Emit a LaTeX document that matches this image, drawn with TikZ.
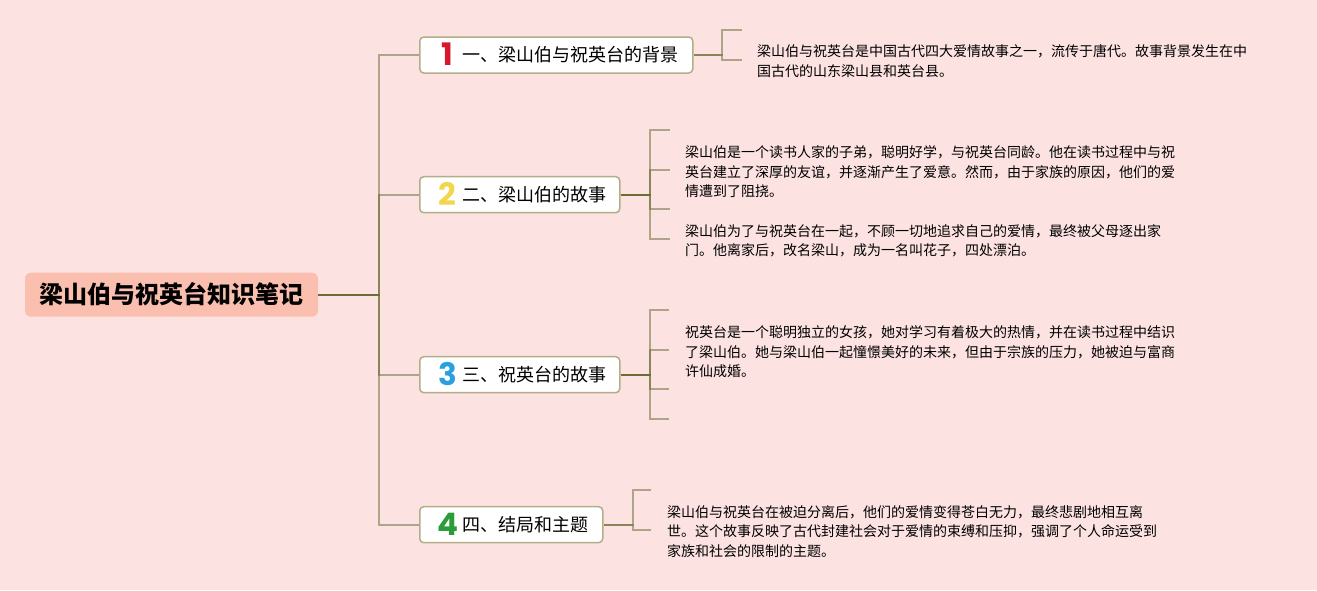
\documentclass[tikz,border=0pt]{standalone}
\usepackage{fontspec}
\setmainfont{Noto Sans CJK SC}
\newfontfamily\numfont{Poppins}
\definecolor{bg}{HTML}{FDE2E2}
\definecolor{rootfill}{HTML}{FBBFAF}
\definecolor{ln}{RGB}{99,104,45}
\definecolor{boxline}{HTML}{B3AE88}
\definecolor{nred}{HTML}{D7172F}
\definecolor{nyellow}{HTML}{F2D64C}
\definecolor{nblue}{HTML}{2AA0DE}
\definecolor{ngreen}{HTML}{2A9D3A}
\newcommand\ptext[1]{\begin{tabular}[t]{@{}l@{}}#1\end{tabular}}
\newcommand\topicc[4]{\makebox[#3][l]{\hspace{22pt}\makebox[12pt][c]{\raisebox{-4pt}{\numfont\bfseries\fontsize{31}{31}\selectfont\color{#1}#2}}\hspace{8.5pt}#4}}
\begin{document}
\begin{tikzpicture}[x=1pt,y=-1pt,
  rootbox/.style={fill=rootfill, rounded corners=6pt, minimum width=293pt, minimum height=44pt, inner sep=0pt,
    font=\fontsize{24}{28}\selectfont\bfseries, text height=21.1pt, text depth=2.9pt},
  topicbox/.style={draw=boxline, line width=1.5pt, fill=white, rounded corners=4pt, minimum height=36pt,
    inner xsep=0pt, inner ysep=0pt, anchor=west, font=\fontsize{18}{22}\selectfont, text height=15.84pt, text depth=2.16pt},
  conn/.style={draw=ln, draw opacity=0.5, line width=2pt},
  stubline/.style={draw=ln, draw opacity=0.5, line width=1.8pt},
  para/.style={anchor=base west, inner sep=0pt, font=\fontsize{14}{19.5}\selectfont}
]
\fill[bg] (0,0) rectangle (1317,590);
\useasboundingbox (0,0) rectangle (1317,590);

% root
\node[rootbox] (root) at (171.5,294.7) {梁山伯与祝英台知识笔记};

% topics
\node[topicbox] (b1) at (419,55) {\topicc{nred}{1}{273pt}{一、梁山伯与祝英台的背景}};
\node[topicbox] (b2) at (419,194.7) {\topicc{nyellow}{2}{200pt}{二、梁山伯的故事}};
\node[topicbox] (b3) at (419,374.7) {\topicc{nblue}{3}{200pt}{三、祝英台的故事}};
\node[topicbox] (b4) at (419,524.7) {\topicc{ngreen}{4}{183pt}{四、结局和主题}};

% trunk connectors
\coordinate (j) at (379,294.7);
\foreach \b in {b1,b2,b3,b4}
  \draw[conn] (root.east) -- (j) |- (\b.west);

% bracket points
\coordinate (k1) at (722,55);
\coordinate (s11) at (742,30);
\coordinate (s12) at (742,60);
\coordinate (k2) at (650,194.7);
\coordinate (s21) at (670,130);
\coordinate (s22) at (670,170);
\coordinate (s23) at (670,209.3);
\coordinate (s24) at (670,239.3);
\coordinate (k3) at (650,374.7);
\coordinate (s31) at (669,310);
\coordinate (s32) at (669,350);
\coordinate (s33) at (669,389.3);
\coordinate (s34) at (669,419.3);
\coordinate (k4) at (632.6,524.7);
\coordinate (s41) at (651,490);
\coordinate (s42) at (651,530);

\foreach \s in {s11,s12} \draw[stubline] (b1.east) -- (k1) |- (\s);
\foreach \s in {s21,s22,s23,s24} \draw[stubline] (b2.east) -- (k2) |- (\s);
\foreach \s in {s31,s32,s33,s34} \draw[stubline] (b3.east) -- (k3) |- (\s);
\foreach \s in {s41,s42} \draw[stubline] (b4.east) -- (k4) |- (\s);

% paragraphs
\node[para] (p1) at (757,56.8) {\ptext{梁山伯与祝英台是中国古代四大爱情故事之一，流传于唐代。故事背景发生在中\\国古代的山东梁山县和英台县。}};
\node[para] (p2a) at (685,157.6) {\ptext{梁山伯是一个读书人家的子弟，聪明好学，与祝英台同龄。他在读书过程中与祝\\英台建立了深厚的友谊，并逐渐产生了爱意。然而，由于家族的原因，他们的爱\\情遭到了阻挠。}};
\node[para] (p2b) at (685,236.3) {\ptext{梁山伯为了与祝英台在一起，不顾一切地追求自己的爱情，最终被父母逐出家\\门。他离家后，改名梁山，成为一名叫花子，四处漂泊。}};
\node[para] (p3) at (685,337.6) {\ptext{祝英台是一个聪明独立的女孩，她对学习有着极大的热情，并在读书过程中结识\\了梁山伯。她与梁山伯一起憧憬美好的未来，但由于宗族的压力，她被迫与富商\\许仙成婚。}};
\node[para] (p4) at (667,517) {\ptext{梁山伯与祝英台在被迫分离后，他们的爱情变得苍白无力，最终悲剧地相互离\\世。这个故事反映了古代封建社会对于爱情的束缚和压抑，强调了个人命运受到\\家族和社会的限制的主题。}};
\end{tikzpicture}
\end{document}
